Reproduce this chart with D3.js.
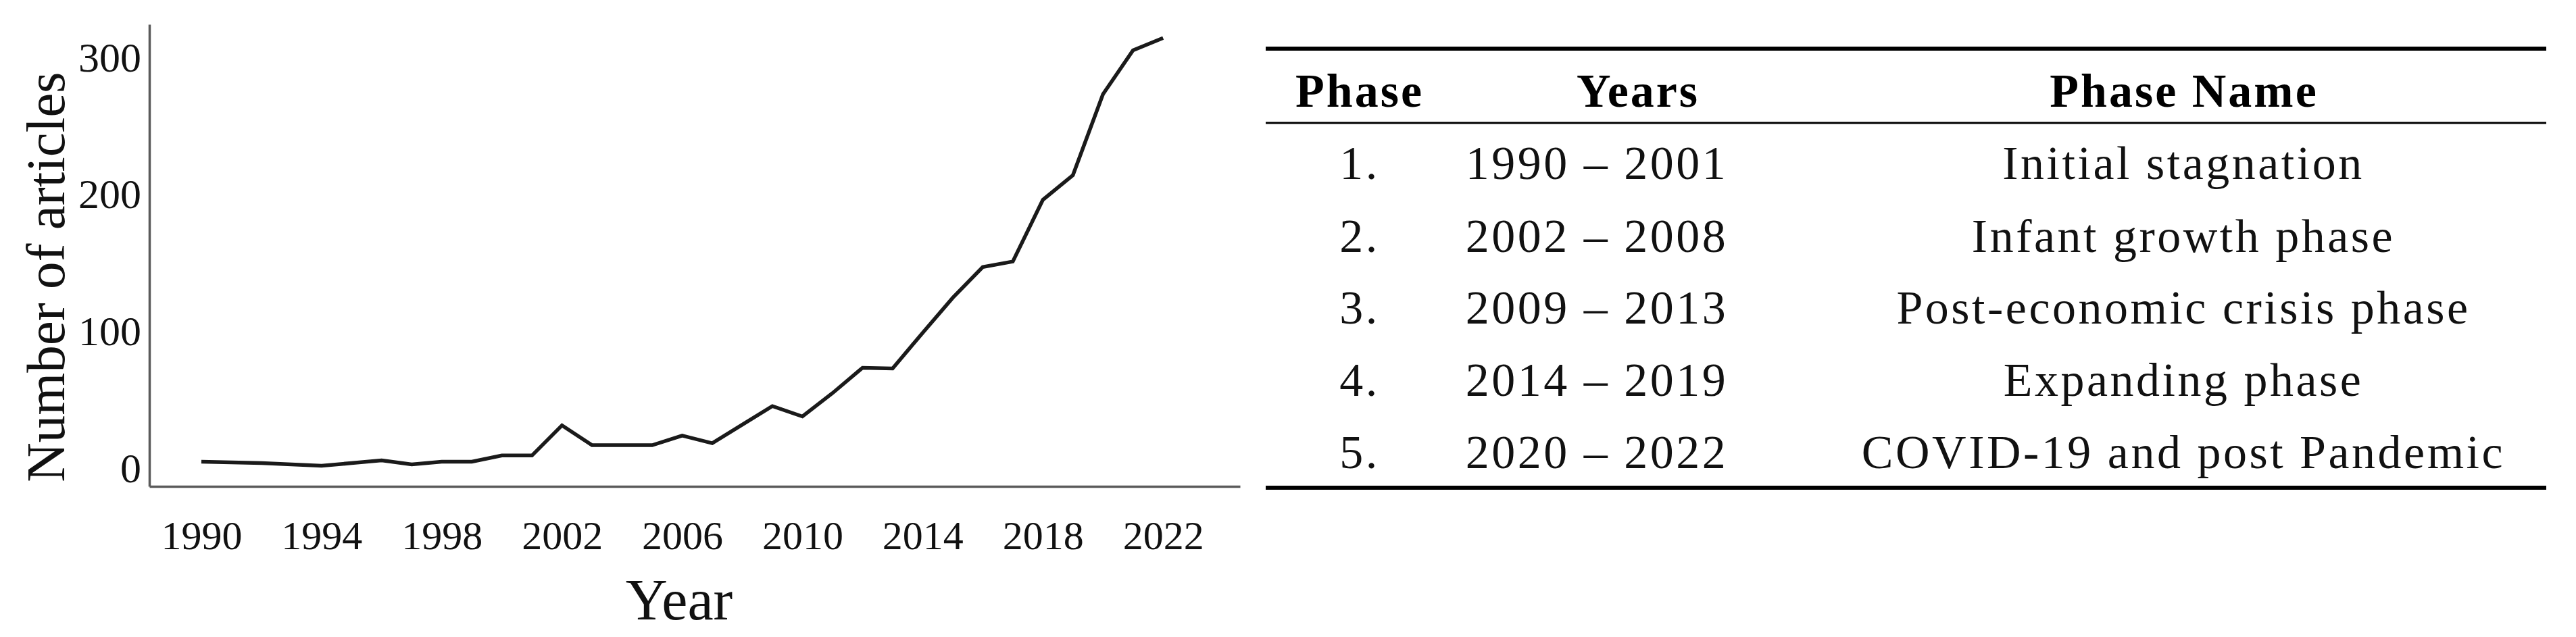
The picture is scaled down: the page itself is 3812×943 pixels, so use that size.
<!DOCTYPE html>
<html>
<head>
<meta charset="utf-8">
<script src="https://cdn.jsdelivr.net/npm/d3@7"></script>
<style>
  html, body { margin: 0; padding: 0; background: #fff; }
  svg { display: block; }
</style>
</head>
<body>
<svg id="chart" width="3812" height="943"></svg>
<script>
// ---- data ----
const years = [1990,1991,1992,1993,1994,1995,1996,1997,1998,1999,2000,2001,2002,2003,2004,2005,2006,2007,2008,2009,2010,2011,2012,2013,2014,2015,2016,2017,2018,2019,2020,2021,2022];
const articles = [4,3.5,3,2,1,3,5,2,4,4,8.5,8.5,30.5,16,16,16,23,17.5,31,44.5,37,54,72.5,72,98,123.5,146,150,195,213,272,304,313];
const xTicks = [1990,1994,1998,2002,2006,2010,2014,2018,2022];
const yTicks = [0,100,200,300];
const xTitle = "Year";
const yTitle = "Number of articles";

const tableHeaders = ["Phase", "Years", "Phase Name"];
const phaseNumbers = ["1.", "2.", "3.", "4.", "5."];
const phaseYears = ["1990 \u2013 2001", "2002 \u2013 2008", "2009 \u2013 2013", "2014 \u2013 2019", "2020 \u2013 2022"];
const phaseNames = ["Initial stagnation", "Infant growth phase", "Post-economic crisis phase", "Expanding phase", "COVID-19 and post Pandemic"];

// ---- chart ----
const svg = d3.select("#chart");
const serif = "'Liberation Serif', 'Times New Roman', serif";

const x = d3.scaleLinear().domain([1988.27, 2024.56]).range([221, 1835]);
const y = d3.scaleLinear().domain([-14, 323]).range([720, 36]);

// x axis
const gx = svg.append("g").attr("transform", `translate(0,${y.range()[0]})`)
  .call(d3.axisBottom(x).tickValues(xTicks).tickFormat(d3.format("d")).tickSize(0).tickSizeOuter(0));
gx.select(".domain").attr("stroke", "#5a5a5a").attr("stroke-width", 3.5);
gx.selectAll("text").attr("font-family", serif).attr("font-size", 60).attr("fill", "#111")
  .attr("y", 50).attr("dy", "0.71em");

// y axis
const gy = svg.append("g").attr("transform", `translate(${x.range()[0]},0)`)
  .call(d3.axisLeft(y).tickValues(yTicks).tickSize(0).tickSizeOuter(0));
gy.select(".domain").attr("stroke", "#5a5a5a").attr("stroke-width", 3.5);
gy.selectAll("text").attr("font-family", serif).attr("font-size", 62).attr("fill", "#111")
  .attr("x", -12).attr("dy", "0.36em");

// line
const line = d3.line().x((d, i) => x(years[i])).y(d => y(d));
svg.append("path").datum(articles)
  .attr("d", line)
  .attr("fill", "none")
  .attr("stroke", "#1a1a1a")
  .attr("stroke-width", 5.5)
  .attr("stroke-linejoin", "miter");

// axis titles
svg.append("text").text(xTitle)
  .attr("x", 1005).attr("y", 917)
  .attr("text-anchor", "middle")
  .attr("font-family", serif).attr("font-size", 86).attr("fill", "#111");

svg.append("text").text(yTitle)
  .attr("transform", "translate(95,410) rotate(-90)")
  .attr("text-anchor", "middle")
  .attr("font-family", serif).attr("font-size", 81).attr("fill", "#111");

// ---- table ----
const tableFont = "'Liberation Serif', 'Times New Roman', serif";
const colX = [2012, 2363, 3231];
const headerX = [2012, 2424, 3232];
const tLeft = 1873, tRight = 3768;
const rowBase = [265, 373, 479, 586, 693];

const tbl = svg.append("g");
tbl.append("line").attr("x1", tLeft).attr("x2", tRight).attr("y1", 72).attr("y2", 72)
  .attr("stroke", "#000").attr("stroke-width", 6);
tbl.append("line").attr("x1", tLeft).attr("x2", tRight).attr("y1", 182).attr("y2", 182)
  .attr("stroke", "#000").attr("stroke-width", 3);
tbl.append("line").attr("x1", tLeft).attr("x2", tRight).attr("y1", 722).attr("y2", 722)
  .attr("stroke", "#000").attr("stroke-width", 6);

tbl.selectAll("text.hdr").data(tableHeaders).join("text")
  .attr("class", "hdr")
  .text(d => d)
  .attr("x", (d, i) => headerX[i]).attr("y", 158)
  .attr("text-anchor", "middle")
  .attr("font-family", tableFont).attr("font-weight", "bold")
  .attr("font-size", 70).attr("letter-spacing", "3px").attr("fill", "#000");

const cols = [phaseNumbers, phaseYears, phaseNames];
cols.forEach((col, ci) => {
  tbl.selectAll(`text.c${ci}`).data(col).join("text")
    .attr("class", `c${ci}`)
    .text(d => d)
    .attr("x", colX[ci]).attr("y", (d, i) => rowBase[i])
    .attr("text-anchor", "middle")
    .attr("font-family", tableFont)
    .attr("font-size", 70).attr("letter-spacing", "3.5px").attr("fill", "#111");
});
</script>
</body>
</html>
